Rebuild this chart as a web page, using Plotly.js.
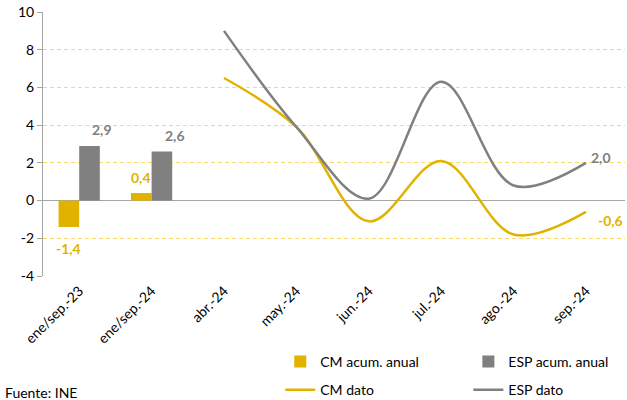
<!DOCTYPE html>
<html><head><meta charset="utf-8">
<script src="https://cdn.plot.ly/plotly-3.0.1.min.js"></script>
<style>html,body{margin:0;padding:0;background:#fff}#c{width:627px;height:400px}</style>
</head><body><div id="c"></div>
<script>
const categories = ["ene/sep.-23","ene/sep.-24","abr.-24","may.-24","jun.-24","jul.-24","ago.-24","sep.-24"];
const barCats = ["ene/sep.-23","ene/sep.-24"];
const cmAcum = [-1.4, 0.4];
const espAcum = [2.9, 2.6];
const lineCats = ["abr.-24","may.-24","jun.-24","jul.-24","ago.-24","sep.-24"];
const cmDato = [6.5, 3.9, -1.1, 2.1, -1.8, -0.6];
const espDato = [9.0, 3.9, 0.1, 6.3, 0.8, 2.0];
const yTicks = [-4, -2, 0, 2, 4, 6, 8, 10];

const GOLD = "#DFB300", GRAY = "#808080";
const FONT = "Lato, 'Open Sans', sans-serif";
const fmt = v => v.toFixed(1).replace(".", ",");

const traces = [
  {type:"bar", name:"CM acum. anual", x:barCats, y:cmAcum, marker:{color:GOLD},
   legend:"legend", legendgroup:"a"},
  {type:"bar", name:"ESP acum. anual", x:barCats, y:espAcum, marker:{color:GRAY},
   legend:"legend2", legendgroup:"c"},
  {type:"scatter", mode:"lines", name:"CM dato", x:lineCats, y:cmDato,
   line:{color:GOLD, width:2.5, shape:"spline", smoothing:1},
   legend:"legend", legendgroup:"b"},
  {type:"scatter", mode:"lines", name:"ESP dato", x:lineCats, y:espDato,
   line:{color:GRAY, width:2.5, shape:"spline", smoothing:1},
   legend:"legend2", legendgroup:"d"}
];

const labelFont = c => ({color:c, size:14, family:FONT, weight:"bold"});
const barLabel = (cat, v, color, xs) => ({x:cat, y:v, text:fmt(v), showarrow:false,
  xanchor:"center", yanchor:"middle", xshift:xs, yshift: v >= 0 ? 16 : -22,
  font:labelFont(color)});

const last = lineCats.length - 1;
const annotations = [
  ...barCats.map((c, i) => barLabel(c, cmAcum[i], GOLD, -11)),
  ...barCats.map((c, i) => barLabel(c, espAcum[i], GRAY, 23)),
  {x:lineCats[last], y:espDato[last], text:fmt(espDato[last]), showarrow:false,
   xanchor:"left", yanchor:"middle", xshift:3, yshift:5, font:labelFont(GRAY)},
  {x:lineCats[last], y:cmDato[last], text:fmt(cmDato[last]), showarrow:false,
   xanchor:"left", yanchor:"middle", xshift:10, yshift:-9, font:labelFont(GOLD)},
  {xref:"paper", yref:"paper", x:-0.069, y:-0.443, xanchor:"left", yanchor:"middle",
   text:"Fuente: INE", showarrow:false, font:{size:14, family:FONT, color:"#000"}}
];

const legendCommon = {orientation:"v", xref:"container", yref:"container", xanchor:"left",
  y:0.135, yanchor:"top", traceorder:"grouped", tracegroupgap:7,
  font:{size:14, family:FONT}, itemwidth:30, bgcolor:"rgba(0,0,0,0)"};

const layout = {
  width:627, height:400,
  margin:{l:43, r:2, t:12, b:124, autoexpand:false},
  paper_bgcolor:"#fff", plot_bgcolor:"#fff",
  font:{family:FONT, size:13, color:"#000"},
  barmode:"group", bargap:0.43, bargroupgap:0,
  showlegend:true,
  legend:Object.assign({}, legendCommon, {x:0.447}),
  legend2:Object.assign({}, legendCommon, {x:0.747}),
  xaxis:{type:"category", categoryorder:"array", categoryarray:categories,
         tickangle:-45, showgrid:false, showline:false, ticks:"", automargin:false,
         ticklabelstandoff:3,
         tickfont:{size:14, family:FONT}, zeroline:false},
  yaxis:{range:[-4,10], tickvals:yTicks, ticktext:yTicks.map(String), automargin:false,
         showgrid:true, gridcolor:"#FFD966",
         griddash:"4px,3px", gridwidth:1, showline:true, linecolor:"#A6A6A6", linewidth:1,
         ticks:"outside", ticklen:5, tickcolor:"#A6A6A6",
         zeroline:true, zerolinecolor:"#A6A6A6", zerolinewidth:1.5,
         tickfont:{size:14, family:FONT}},
  annotations:annotations
};
Plotly.newPlot("c", traces, layout, {displayModeBar:false, staticPlot:true});
</script></body></html>
